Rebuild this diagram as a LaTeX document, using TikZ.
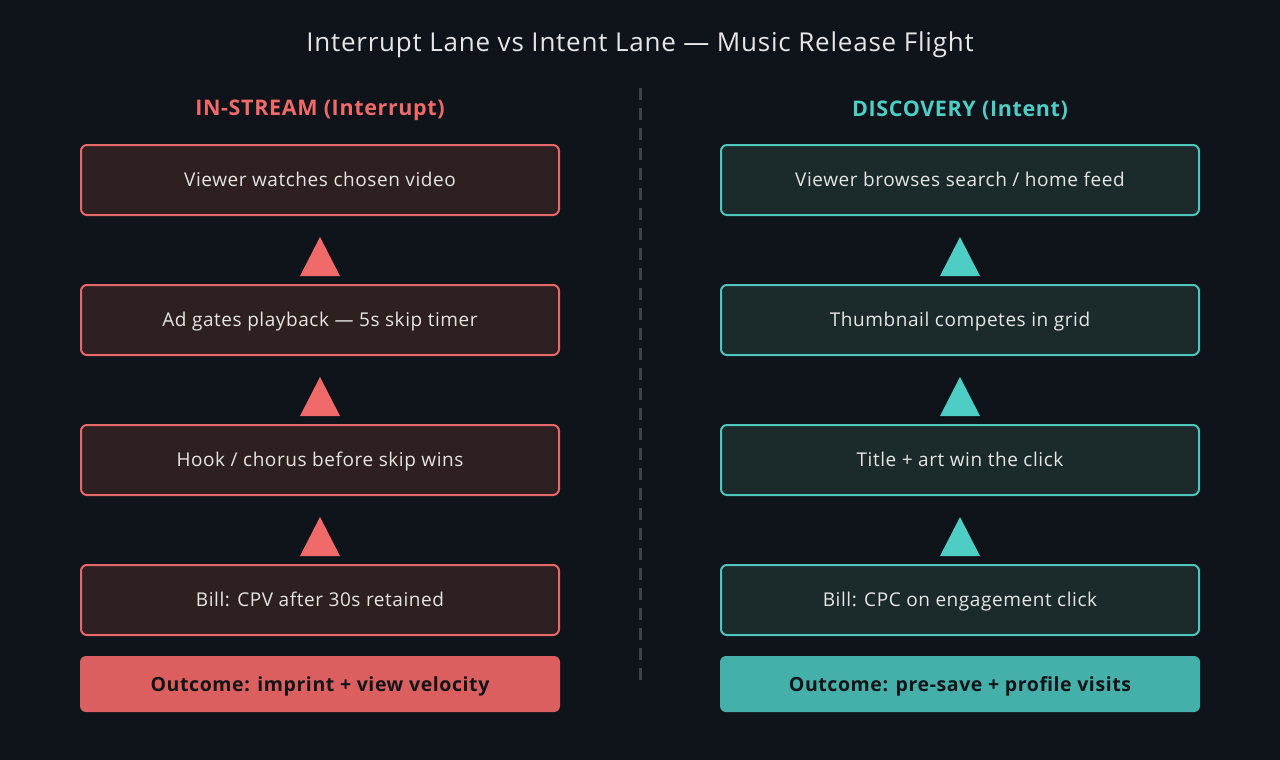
\documentclass[tikz,border=0pt]{standalone}
\usepackage{fontspec}
\setmainfont{Open Sans}[LetterSpace=3]
\definecolor{bg}{HTML}{0F131A}
\definecolor{redc}{HTML}{F06A6A}
\definecolor{redline}{HTML}{E8686A}
\definecolor{redfill}{HTML}{2E1F20}
\definecolor{redout}{HTML}{DC5F5F}
\definecolor{teal}{HTML}{4ECDC4}
\definecolor{tealline}{HTML}{4EC6BE}
\definecolor{tealfill}{HTML}{1B2A2A}
\definecolor{tealout}{HTML}{45B0AA}
\definecolor{txt}{HTML}{E6E6E6}
\definecolor{dark}{HTML}{121418}
\definecolor{divc}{HTML}{3C424B}
\begin{document}
\begin{tikzpicture}[x=1pt,y=-1pt,
  stepbox/.style={draw, line width=2pt, rounded corners=6pt, minimum width=478pt, minimum height=70pt, text=txt, font=\fontsize{19}{22}\selectfont, inner sep=0pt, text height=17pt, text depth=4.4pt},
  redbox/.style={stepbox, draw=redline, fill=redfill},
  tealbox/.style={stepbox, draw=tealline, fill=tealfill},
  outbox/.style={rounded corners=6pt, minimum width=480pt, minimum height=56pt, text=dark, font=\fontsize{19.5}{22}\selectfont\bfseries, inner sep=0pt, text height=20pt, text depth=4.5pt},
  head/.style={font=\fontsize{21.5}{24}\selectfont\bfseries}
]
\useasboundingbox[fill=bg] (0,0) rectangle (1280,760);
\node (title) at (640,45) [text=txt, font=\fontsize{26}{30}\selectfont] {Interrupt Lane vs Intent Lane — Music Release Flight};
\node (hl) at (320,110) [head, text=redc] {IN-STREAM (Interrupt)};
\node (hr) at (960,110) [head, text=teal] {DISCOVERY (Intent)};
\coordinate (dtop) at (640,88);
\coordinate (dbot) at (640,680);
\draw[divc, line width=3pt, dash pattern=on 12pt off 8pt] (dtop) -- (dbot);

\node[redbox] (l1) at (320,180) {Viewer watches chosen video};
\node[redbox] (l2) at (320,320) {Ad gates playback — 5s skip timer};
\node[redbox] (l3) at (320,460) {Hook / chorus before skip wins};
\node[redbox] (l4) at (320,600) {Bill: CPV after 30s retained};
\node[outbox, fill=redout] (lo) at (320,684) {Outcome: imprint + view velocity};

\node[tealbox] (r1) at (960,180) {Viewer browses search / home feed};
\node[tealbox] (r2) at (960,320) {Thumbnail competes in grid};
\node[tealbox] (r3) at (960,460) {Title + art win the click};
\node[tealbox] (r4) at (960,600) {Bill: CPC on engagement click};
\node[outbox, fill=tealout] (ro) at (960,684) {Outcome: pre-save + profile visits};

\foreach \a/\b/\c in {l1/l2/redc,l2/l3/redc,l3/l4/redc,r1/r2/teal,r2/r3/teal,r3/r4/teal}{
  \path (\a.south) -- (\b.north) coordinate[midway] (m\a);
  \fill[\c] ([yshift=13pt]m\a) -- ([xshift=-20pt,yshift=-26pt]m\a) -- ([xshift=20pt,yshift=-26pt]m\a) -- cycle;
}
\end{tikzpicture}
\end{document}
